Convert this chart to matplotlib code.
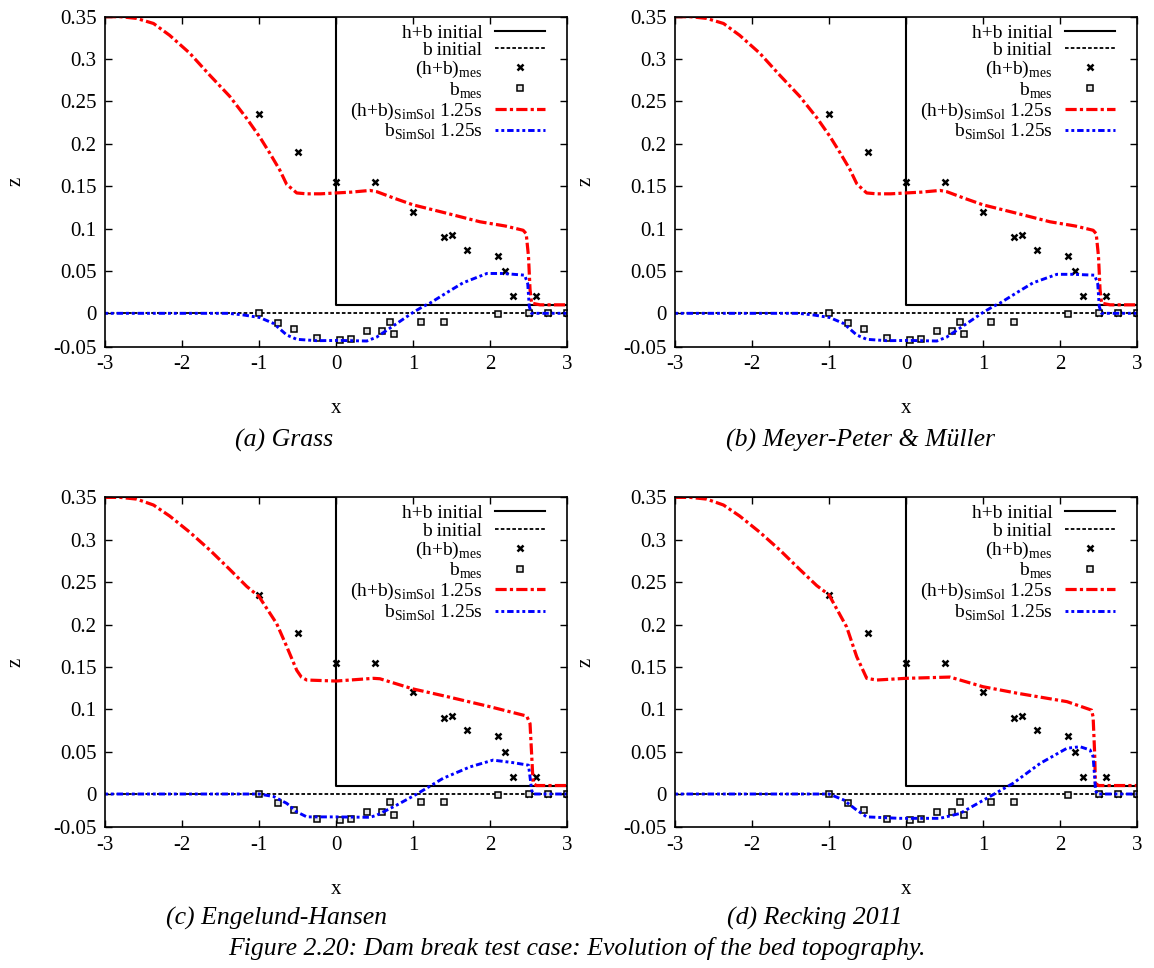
import matplotlib
matplotlib.use('Agg')
import matplotlib.pyplot as plt
import numpy as np

plt.rcParams['font.family'] = ['Liberation Serif', 'DejaVu Serif']
plt.rcParams['mathtext.fontset'] = 'custom'
plt.rcParams['mathtext.rm'] = 'Liberation Serif'

# measured data (same in every panel)
hb_mes_x = [-1.0, -0.5, 0.0, 0.5, 1.0, 1.4, 1.5, 1.7, 2.1, 2.2, 2.3, 2.5, 2.6, 2.75, 3.0]
hb_mes_z = [0.235, 0.19, 0.155, 0.155, 0.12, 0.09, 0.092, 0.075, 0.068, 0.05, 0.02, 0.0, 0.02, 0.0, 0.0]
b_mes_x = [-1.0, -0.75, -0.55, -0.25, 0.05, 0.2, 0.4, 0.6, 0.7, 0.75, 1.1, 1.4, 2.1, 2.5, 2.75, 3.0]
b_mes_z = [0.0, -0.011, -0.019, -0.029, -0.031, -0.030, -0.021, -0.021, -0.010, -0.025, -0.010, -0.010, -0.001, 0.0, 0.0, 0.0]

# initial condition
init_x = [-3.0, 0.0, 0.0, 3.0]
init_hb = [0.35, 0.35, 0.01, 0.01]
init_b_x = [-3.0, 3.0]
init_b = [0.0, 0.0]

# simulated results (SimSol, t = 1.25 s)
hb_x_a = [-3, -2.8, -2.59, -2.37, -2.16, -1.9, -1.64, -1.38, -1.16, -0.99, -0.86, -0.73, -0.64, -0.56,
          -0.51, -0.38, -0.2, 0.0, 0.2, 0.44, 0.53, 0.75, 1.0, 1.44, 1.87, 2.2, 2.43, 2.47, 2.5, 2.52,
          2.54, 2.65, 3.0]
hb_z_a = [0.35, 0.35, 0.348, 0.342, 0.328, 0.307, 0.281, 0.256, 0.230, 0.208, 0.189, 0.169, 0.152, 0.146,
          0.142, 0.141, 0.141, 0.142, 0.143, 0.145, 0.1435, 0.136, 0.128, 0.118, 0.108, 0.103, 0.098,
          0.094, 0.067, 0.028, 0.012, 0.01, 0.01]
b_x_a = [-3, -1.4, -1.2, -0.99, -0.81, -0.64, -0.51, -0.25, 0.05, 0.4, 0.53, 0.79, 1.0, 1.13, 1.22,
         1.45, 1.65, 1.96, 2.17, 2.45, 2.49, 2.51, 2.54, 3.0]
b_z_a = [0, 0, -0.002, -0.005, -0.012, -0.0256, -0.0307, -0.0323, -0.032, -0.0327, -0.028, -0.012,
         0.001, 0.008, 0.012, 0.025, 0.036, 0.047, 0.047, 0.045, 0.035, 0.008, 0, 0]

hb_x_b = hb_x_a
hb_z_b = [0.35, 0.35, 0.348, 0.342, 0.328, 0.307, 0.281, 0.256, 0.231, 0.209, 0.190, 0.170, 0.153, 0.146,
          0.142, 0.141, 0.141, 0.142, 0.143, 0.145, 0.1435, 0.136, 0.128, 0.118, 0.108, 0.103, 0.098,
          0.094, 0.067, 0.028, 0.012, 0.01, 0.01]
b_x_b = b_x_a
b_z_b = [0, 0, -0.002, -0.005, -0.012, -0.0256, -0.0307, -0.0323, -0.032, -0.0327, -0.028, -0.012,
         0.001, 0.008, 0.012, 0.025, 0.036, 0.046, 0.046, 0.045, 0.035, 0.008, 0, 0]

hb_x_c = [-3, -2.8, -2.59, -2.37, -2.16, -1.9, -1.64, -1.38, -1.16, -1.0, -0.77, -0.64, -0.51, -0.45,
          -0.38, 0.0, 0.485, 0.57, 1.0, 1.44, 2.0, 2.477, 2.52, 2.54, 2.56, 2.6, 3.0]
hb_z_c = [0.35, 0.35, 0.348, 0.341, 0.328, 0.309, 0.288, 0.265, 0.245, 0.233, 0.201, 0.174, 0.146, 0.138,
          0.1345, 0.1333, 0.1365, 0.136, 0.124, 0.115, 0.103, 0.092, 0.083, 0.048, 0.013, 0.01, 0.01]
b_x_c = [-3, -1.0, -0.81, -0.64, -0.51, -0.38, 0.0, 0.44, 0.53, 0.79, 1.05, 1.39, 1.74, 2.04, 2.30,
         2.50, 2.52, 2.54, 2.56, 3.0]
b_z_c = [0, 0, -0.003, -0.011, -0.021, -0.027, -0.027, -0.0275, -0.025, -0.013, 0.0, 0.0185, 0.032,
         0.040, 0.037, 0.034, 0.020, 0.005, 0, 0]

hb_x_d = [-3, -2.8, -2.59, -2.37, -2.16, -1.9, -1.64, -1.38, -1.16, -1.0, -0.77, -0.64, -0.51, -0.38,
          0.0, 0.57, 1.0, 1.44, 2.09, 2.41, 2.43, 2.45, 2.46, 2.5, 3.0]
hb_z_d = [0.35, 0.35, 0.348, 0.341, 0.328, 0.309, 0.288, 0.265, 0.246, 0.235, 0.197, 0.162, 0.1365,
          0.1345, 0.1365, 0.138, 0.1266, 0.119, 0.109, 0.099, 0.091, 0.048, 0.0126, 0.01, 0.01]
b_x_d = [-3, -1.0, -0.81, -0.64, -0.51, -0.08, 0.44, 0.70, 1.05, 1.39, 1.74, 2.09, 2.26, 2.39, 2.43,
         2.45, 2.46, 2.48, 3.0]
b_z_d = [0, 0, -0.007, -0.019, -0.027, -0.0287, -0.0287, -0.023, -0.005, 0.0126, 0.036, 0.054, 0.0558,
         0.052, 0.044, 0.020, 0.005, 0, 0]

panels = [
    ('(a) Grass', hb_x_a, hb_z_a, b_x_a, b_z_a),
    ('(b) Meyer-Peter & Müller', hb_x_b, hb_z_b, b_x_b, b_z_b),
    ('(c) Engelund-Hansen', hb_x_c, hb_z_c, b_x_c, b_z_c),
    ('(d) Recking 2011', hb_x_d, hb_z_d, b_x_d, b_z_d),
]

xticks = [-3, -2, -1, 0, 1, 2, 3]
ytick_labels = ['-0.05', '0', '0.05', '0.1', '0.15', '0.2', '0.25', '0.3', '0.35']
ybottom = -0.0394
ytick_pos = [ybottom, 0, 0.05, 0.1, 0.15, 0.2, 0.25, 0.3, 0.35]

W, H = 1154, 968
fig = plt.figure(figsize=(W / 100, H / 100), dpi=100)

axes_px = [(105, 16.7), (675, 16.7), (105, 497.4), (675, 497.4)]
caption_px = [(284, 440), (861, 440), (277, 918), (815, 918)]
aw, ah = 462, 330

for (title, hx, hz, bx, bz), (lx, ty), (cx, cy) in zip(panels, axes_px, caption_px):
    ax = fig.add_axes([lx / W, 1 - (ty + ah) / H, aw / W, ah / H])
    ax.plot(init_x, init_hb, color='black', lw=1.5, label='h+b initial')
    ax.plot(init_b_x, init_b, color='black', lw=1.3, ls=(0, (2.0, 1.2)), label='b initial')
    ax.plot(hb_mes_x, hb_mes_z, ls='none', marker='x', ms=4.5, mew=1.8, color='black',
            label='(h+b)$_{\\mathrm{mes}}$')
    ax.plot(b_mes_x, b_mes_z, ls='none', marker='s', ms=5.0, mew=1.1, mec='black', mfc='#e4e4e4',
            label='b$_{\\mathrm{mes}}$')
    ax.plot(hx, hz, color='red', lw=2.3, ls=(0, (3.5, 1.0, 1.0, 1.0)),
            label='(h+b)$_{\\mathrm{SimSol}}$ 1.25s')
    ax.plot(bx, bz, color='blue', lw=2.1, ls=(0, (1.0, 1.0, 1.0, 1.0, 2.2, 1.0)),
            label='b$_{\\mathrm{SimSol}}$ 1.25s')

    ax.set_xlim(-3, 3)
    ax.set_ylim(ybottom, 0.35)
    ax.set_xticks(xticks)
    ax.set_xticklabels([str(t) for t in xticks])
    ax.set_yticks(ytick_pos)
    ax.set_yticklabels(ytick_labels)
    ax.tick_params(direction='in', length=5, width=1, top=True, right=True, labelsize=15, pad=6)
    for s in ax.spines.values():
        s.set_linewidth(1.2)
    ax.set_xlabel('x', fontsize=15, labelpad=18)
    ax.set_ylabel('z', fontsize=15, labelpad=20)

    leg = ax.legend(loc='upper right', bbox_to_anchor=(0.961, 0.99), borderaxespad=0.0,
                    frameon=False, markerfirst=False, fontsize=14, labelspacing=0.0,
                    handlelength=2.6, handletextpad=0.62, borderpad=0.2)

    fig.text(cx / W, 1 - cy / H, title, ha='center', va='center', fontsize=18.5, style='italic')

fig.text(577 / W, 1 - 948 / H, 'Figure 2.20: Dam break test case: Evolution of the bed topography.',
         ha='center', va='center', fontsize=18.5, style='italic')

plt.savefig('out.png', dpi=100)
